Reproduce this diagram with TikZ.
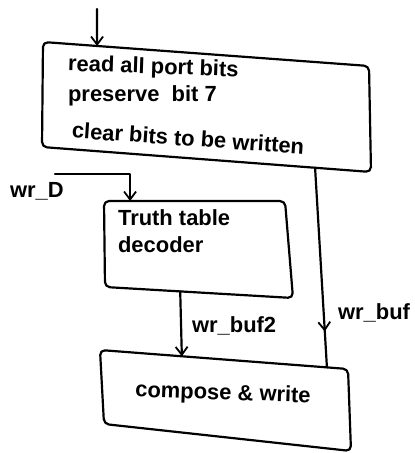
\documentclass[tikz,border=0pt]{standalone}
\usepackage{fontspec}
\setmainfont{Liberation Sans}
\usetikzlibrary{arrows.meta,calc,decorations.markings}
\begin{document}
\begin{tikzpicture}[x=1bp,y=-1bp,
  line width=2.2pt, line cap=round, line join=round,
  outline/.style={draw, rounded corners=5pt},
  lbl/.style={font=\bfseries\fontsize{22}{27}\selectfont, inner sep=1pt},
  flow/.style={-{Straight Barb[length=8pt,width=12pt,line width=1.8pt]}},
  midarrow/.style={decoration={markings,
      mark=at position #1 with {\arrow{Straight Barb[length=8pt,width=12pt,line width=1.8pt]}}},
      postaction={decorate}}]
  \useasboundingbox (0,0) rectangle (414,453);

  % corners of the three (slightly skewed) blocks
  \coordinate (rdTL) at (43,42);  \coordinate (rdTR) at (369,66);
  \coordinate (rdBR) at (371,172); \coordinate (rdBL) at (42,147);
  \coordinate (ttTL) at (104,201); \coordinate (ttTR) at (285,201);
  \coordinate (ttBR) at (293,298); \coordinate (ttBL) at (105,287);
  \coordinate (cwTL) at (100,350); \coordinate (cwTR) at (348,369);
  \coordinate (cwBR) at (351,451); \coordinate (cwBL) at (104,424);

  % block outlines
  \draw[outline] (rdTL) -- (rdTR) -- (rdBR) -- (rdBL) -- cycle;
  \draw[outline] (ttTL) -- (ttTR) -- (ttBR) -- (ttBL) -- cycle;
  \draw[outline] (cwTL) -- (cwTR) -- (cwBR) -- (cwBL) -- cycle;

  % ports on the block edges
  \coordinate (rd-in)  at ($(rdTL)!0.166!(rdTR)$);
  \coordinate (rd-out) at ($(rdBL)!0.83!(rdBR)$);
  \coordinate (tt-in)  at ($(ttTL)!0.144!(ttTR)$);
  \coordinate (tt-out) at ($(ttBL)!0.40!(ttBR)$);
  \coordinate (cw-in2) at ($(cwTL)!0.33!(cwTR)$);
  \coordinate (cw-in1) at ($(cwTL)!0.915!(cwTR)$);

  % block texts
  \node[lbl, anchor=west, rotate=-2] (t1) at (66,65) {read all port bits};
  \node[lbl, anchor=west] (t2) at (66,96) {preserve \ bit 7};
  \node[lbl, anchor=west, rotate=-4] (t3) at (70,130) {clear bits to be written};
  \node[lbl, anchor=north west, align=left] (t4) at (116,208) {Truth table\\decoder};
  \node[lbl, rotate=-2] (t5) at (223,394) {compose \& write};

  % entry arrow
  \coordinate (entry) at (97,9);
  \draw[flow] (entry) -- (rd-in);

  % wr_D input
  \coordinate (wrd) at (55,174);
  \draw[flow] (wrd) -| (tt-in);
  \node[lbl, anchor=west] (lwrd) at (8,191) {wr\_D};

  % wr_buf2
  \draw[flow] (tt-out) -- (cw-in2);
  \node[lbl, anchor=west] (lb2) at (190,326) {wr\_buf2};

  % wr_buf
  \draw[midarrow=0.82] (rd-out) -- (cw-in1);
  \node[lbl, anchor=west] (lb1) at (336,313) {wr\_buf};
\end{tikzpicture}
\end{document}
